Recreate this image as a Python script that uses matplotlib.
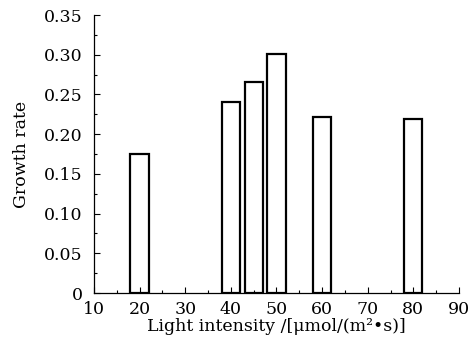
import matplotlib
matplotlib.use("Agg")
import matplotlib.pyplot as plt
from matplotlib.ticker import MultipleLocator, FuncFormatter

light = [20, 40, 45, 50, 60, 80]
growth = [0.175, 0.241, 0.266, 0.301, 0.222, 0.219]
xticks = [10, 20, 30, 40, 50, 60, 70, 80, 90]
yticks = [0, 0.05, 0.10, 0.15, 0.20, 0.25, 0.30, 0.35]

plt.rcParams['font.family'] = ['DejaVu Serif']
fig = plt.figure(figsize=(4.73, 3.45), dpi=100)
ax = fig.add_axes([0.1987, 0.1507, 0.7717, 0.8058])
ax.bar(light, growth, width=4, facecolor='white', edgecolor='black', linewidth=1.6)
ax.set_xlim(10, 90)
ax.set_ylim(0, 0.35)
ax.set_xticks(xticks)
ax.set_yticks(yticks)
ax.xaxis.set_minor_locator(MultipleLocator(5))
ax.yaxis.set_minor_locator(MultipleLocator(0.025))
ax.yaxis.set_major_formatter(FuncFormatter(lambda v, p: '0' if abs(v) < 1e-9 else f'{v:.2f}'))
ax.tick_params(which='both', direction='in', labelsize=12.5, width=0.8)
ax.tick_params(which='major', length=4)
ax.tick_params(which='minor', length=2.5)
ax.tick_params(axis='x', pad=6)
ax.tick_params(axis='y', pad=8)
for s in ['top', 'right']:
    ax.spines[s].set_visible(False)
for s in ['left', 'bottom']:
    ax.spines[s].set_linewidth(0.9)
ax.set_xlabel('Light intensity /[μmol/(m²•s)]', fontsize=12.5, labelpad=0)
ax.set_ylabel('Growth rate', fontsize=12.5, labelpad=10)
fig.savefig('out.png', dpi=100)
